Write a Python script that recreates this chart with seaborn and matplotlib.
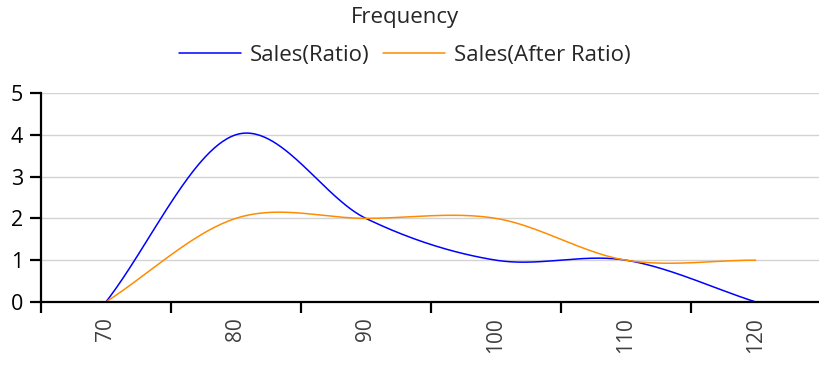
import numpy as np
import pandas as pd
import matplotlib
matplotlib.use("Agg")
import matplotlib.pyplot as plt
import seaborn as sns

categories = ["70", "80", "90", "100", "110", "120"]
sales_ratio = [0, 4, 2, 1, 1, 0]
sales_after_ratio = [0, 2, 2, 2, 1, 1]
series_names = ["Sales(Ratio)", "Sales(After Ratio)"]
series_colors = ["#0000FF", "#FF8C00"]
y_ticks = [0, 1, 2, 3, 4, 5]


def smooth(values, steps=60):
    """Cubic Hermite curve through the points (Catmull-Rom tangents,
    one-sided at both ends)."""
    y = np.asarray(values, dtype=float)
    n = len(y)
    m = np.empty(n)
    m[0] = y[1] - y[0]
    m[-1] = y[-1] - y[-2]
    m[1:-1] = (y[2:] - y[:-2]) / 2.0
    xs, ys = [], []
    for i in range(n - 1):
        t = np.linspace(0, 1, steps, endpoint=(i == n - 2))
        h00 = 2 * t**3 - 3 * t**2 + 1
        h10 = t**3 - 2 * t**2 + t
        h01 = -2 * t**3 + 3 * t**2
        h11 = t**3 - t**2
        xs.append(i + t)
        ys.append(h00 * y[i] + h10 * m[i] + h01 * y[i + 1] + h11 * m[i + 1])
    return np.concatenate(xs), np.concatenate(ys)


frames = []
for name, vals in zip(series_names, [sales_ratio, sales_after_ratio]):
    xs, ys = smooth(vals)
    frames.append(pd.DataFrame({"x": xs, "y": ys, "series": name}))
df = pd.concat(frames, ignore_index=True)

sns.set_theme(style="white")
plt.rcParams["font.family"] = ["Open Sans", "DejaVu Sans"]

fig = plt.figure(figsize=(8.19, 3.66), dpi=100)
ax = fig.add_axes([0.050, 0.175, 0.952, 0.571])

sns.lineplot(data=df, x="x", y="y", hue="series", palette=series_colors,
             hue_order=series_names, linewidth=1.1, sort=False,
             estimator=None, ax=ax, legend=True)

ax.set_xlim(-0.5, len(categories) - 0.5)
ax.set_ylim(0, 5)
ax.set_yticks(y_ticks)
ax.set_yticklabels([str(v) for v in y_ticks], fontsize=15.5, color="black")
ax.set_xticks(range(len(categories)))
ax.set_xticklabels(categories, rotation=90, fontsize=15, color="#404040")
ax.tick_params(axis="x", which="major", length=0, pad=11)
ax.set_xticks(np.arange(-0.5, len(categories) + 0.5, 1), minor=True)
ax.tick_params(axis="x", which="minor", length=8, width=1.6, color="black",
               direction="out", bottom=True)
ax.tick_params(axis="y", length=8, width=1.6, color="black",
               direction="out", left=True, pad=5)

ax.grid(axis="y", color="#D3D3D3", linewidth=1.0)
ax.set_axisbelow(True)
for side in ["top", "right"]:
    ax.spines[side].set_visible(False)
for side in ["left", "bottom"]:
    ax.spines[side].set_color("black")
    ax.spines[side].set_linewidth(1.6)
ax.set_xlabel("")
ax.set_ylabel("")

handles, labels = ax.get_legend_handles_labels()
ax.legend(handles, labels, loc="center", bbox_to_anchor=(405 / 819, 1 - 55 / 366),
          bbox_transform=fig.transFigure, ncol=2, frameon=False, fontsize=16,
          handlelength=2.8, handletextpad=0.4, columnspacing=0.6)
fig.text(405 / 819, 1 - 17 / 366, "Frequency", ha="center", va="center",
         fontsize=16)

fig.savefig("out.png", dpi=100)
